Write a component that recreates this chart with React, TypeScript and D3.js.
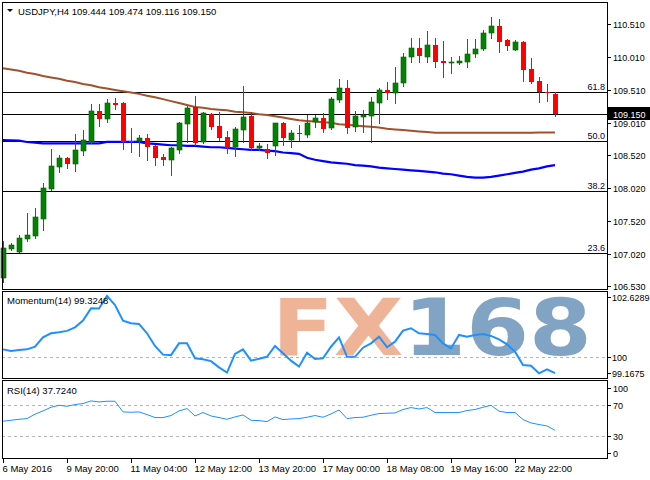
import React from "react";
import * as d3 from "d3";

const symbolTitle = "USDJPY,H4";
const titleOHLC = ["109.444", "109.474", "109.116", "109.150"];

const opens = [106.656, 107.096, 107.05, 107.248, 107.293, 107.551, 108.006, 108.34, 108.477, 108.386, 108.583, 108.719, 109.19, 109.069, 109.311, 109.311, 108.735, 108.735, 108.78, 108.659, 108.492, 108.446, 108.598, 108.993, 109.251, 108.719, 109.144, 108.962, 108.795, 108.644, 108.902, 109.114, 108.628, 108.613, 108.659, 109.008, 108.75, 108.856, 108.826, 109.023, 109.084, 108.932, 109.357, 109.539, 108.947, 109.099, 109.114, 109.311, 109.509, 109.463, 109.615, 110.009, 110.146, 110.009, 110.191, 109.949, 109.918, 109.918, 109.934, 110.055, 110.131, 110.374, 110.48, 110.267, 110.116, 110.237, 109.827, 109.645, 109.478, 109.444];
const highs = [107.217, 107.187, 107.308, 107.642, 107.718, 108.097, 108.613, 108.522, 108.492, 108.841, 108.902, 109.296, 109.296, 109.372, 109.387, 109.32, 108.932, 108.826, 108.841, 108.67, 108.537, 108.644, 109.023, 109.266, 109.418, 109.175, 109.16, 109.175, 108.886, 108.947, 109.569, 109.175, 108.704, 108.69, 109.015, 109.023, 108.902, 108.977, 109.129, 109.129, 109.16, 109.402, 109.676, 109.66, 109.19, 109.205, 109.402, 109.539, 109.63, 109.858, 110.07, 110.298, 110.298, 110.404, 110.298, 110.252, 110.009, 110.025, 110.283, 110.283, 110.419, 110.616, 110.586, 110.275, 110.267, 110.245, 109.994, 109.706, 109.6, 109.474];
const lows = [106.595, 107.081, 107.045, 107.217, 107.263, 107.384, 107.99, 108.264, 108.325, 108.279, 108.522, 108.704, 108.962, 109.023, 109.22, 108.613, 108.568, 108.507, 108.446, 108.37, 108.37, 108.219, 108.553, 108.719, 108.68, 108.704, 108.917, 108.75, 108.553, 108.507, 108.719, 108.598, 108.598, 108.477, 108.522, 108.674, 108.644, 108.75, 108.795, 108.947, 108.871, 108.917, 109.327, 108.856, 108.886, 108.871, 108.719, 109.008, 109.372, 109.311, 109.569, 109.934, 109.934, 109.934, 109.858, 109.706, 109.767, 109.905, 109.858, 110.009, 110.116, 110.298, 110.085, 110.116, 110.11, 109.645, 109.615, 109.327, 109.342, 109.116];
const closes = [107.111, 107.157, 107.263, 107.308, 107.581, 108.021, 108.355, 108.477, 108.386, 108.598, 108.75, 109.19, 109.069, 109.311, 109.281, 108.719, 108.719, 108.78, 108.644, 108.477, 108.446, 108.628, 109.008, 109.235, 108.704, 109.16, 108.947, 108.78, 108.628, 108.917, 109.099, 108.628, 108.659, 108.553, 109.008, 108.78, 108.856, 108.841, 109.008, 109.084, 108.917, 109.372, 109.539, 108.932, 109.114, 109.129, 109.327, 109.509, 109.463, 109.615, 110.009, 110.146, 110.025, 110.191, 109.934, 109.918, 109.934, 109.949, 110.055, 110.131, 110.374, 110.48, 110.237, 110.176, 110.237, 109.812, 109.63, 109.478, 109.463, 109.15];

const maSlow = [109.84, 109.82, 109.8, 109.77, 109.75, 109.72, 109.7, 109.68, 109.65, 109.63, 109.6, 109.58, 109.55, 109.53, 109.51, 109.49, 109.47, 109.45, 109.42, 109.4, 109.37, 109.34, 109.31, 109.28, 109.25, 109.24, 109.22, 109.21, 109.2, 109.18, 109.17, 109.16, 109.14, 109.13, 109.11, 109.09, 109.07, 109.05, 109.04, 109.03, 109.02, 109.01, 108.99, 108.98, 108.97, 108.96, 108.95, 108.94, 108.92, 108.91, 108.9, 108.89, 108.88, 108.87, 108.86, 108.86, 108.86, 108.86, 108.86, 108.86, 108.86, 108.86, 108.86, 108.86, 108.86, 108.86, 108.86, 108.865, 108.865, 108.865];
const maFast = [108.75, 108.745, 108.74, 108.72, 108.71, 108.7, 108.7, 108.7, 108.7, 108.7, 108.7, 108.7, 108.7, 108.72, 108.72, 108.72, 108.72, 108.72, 108.7, 108.69, 108.68, 108.67, 108.67, 108.66, 108.66, 108.65, 108.64, 108.64, 108.63, 108.62, 108.61, 108.6, 108.6, 108.59, 108.58, 108.56, 108.55, 108.54, 108.48, 108.45, 108.43, 108.41, 108.4, 108.39, 108.37, 108.36, 108.35, 108.33, 108.32, 108.31, 108.3, 108.29, 108.28, 108.27, 108.26, 108.24, 108.23, 108.21, 108.19, 108.18, 108.18, 108.19, 108.21, 108.23, 108.25, 108.27, 108.3, 108.32, 108.35, 108.37];

const momentum = [100.32, 100.25, 100.29, 100.32, 100.43, 100.82, 100.99, 101.03, 101.09, 101.24, 101.52, 102.03, 102.02, 102.55, 102.17, 101.52, 101.41, 101.38, 100.99, 100.46, 100.1, 100.08, 100.57, 100.57, 99.95, 99.91, 99.83, 99.57, 99.35, 100.13, 100.32, 99.85, 99.93, 100.01, 100.46, 100.16, 99.85, 99.6, 100.18, 99.92, 99.95, 100.43, 100.82, 100.01, 100.01, 100.39, 100.57, 100.85, 100.41, 100.64, 101.1, 101.2, 100.99, 100.96, 100.92, 100.57, 100.36, 100.92, 100.85, 100.92, 100.96, 100.88, 100.74, 100.53, 100.22, 99.67, 99.64, 99.32, 99.49, 99.3248];
const rsi = [49.4, 50.6, 51.9, 52.8, 58.4, 62.7, 67.4, 70, 68.7, 70.9, 72.2, 75.6, 74.3, 75.2, 75.2, 61.4, 61, 61.4, 58, 54.1, 54.1, 56.7, 62.7, 65.7, 56.2, 60.6, 56.2, 54.1, 51.9, 54.9, 57.5, 50.6, 50.2, 48.9, 54.9, 51.5, 52.3, 52.8, 54.5, 56.7, 54.5, 58.8, 63.9, 52.8, 54.1, 54.5, 57.1, 59.3, 59.7, 60.1, 64.5, 67, 65.2, 67, 60.6, 60.6, 60.6, 60.6, 63.2, 64.5, 67.4, 70, 62.3, 60.6, 60.6, 51.5, 47.2, 45.1, 43.3, 37.724];

const xTickBars = [0, 8, 16, 24, 32, 40, 48, 56, 64];
const xTickLabels = ["6 May 2016", "9 May 20:00", "11 May 04:00", "12 May 12:00", "13 May 20:00", "17 May 00:00", "18 May 08:00", "19 May 16:00", "22 May 22:00"];
const priceTicks = [110.51, 110.01, 109.51, 109.01, 108.52, 108.02, 107.52, 107.02, 106.53];
const priceTickLabels = ["110.510", "110.010", "109.510", "109.010", "108.520", "108.020", "107.520", "107.020", "106.530"];
const fibLevels = [109.478, 108.735, 107.976, 107.035];
const fibLabels = ["61.8", "50.0", "38.2", "23.6"];
const lastPrice = 109.15;
const lastPriceLabel = "109.150";
const momTicks = [102.6289, 100, 99.1675];
const momTickLabels = ["102.6289", "100", "99.1675"];
const momLevel = 100;
const rsiTicks = [100, 70, 30, 0];
const rsiTickLabels = ["100", "70", "30", "0"];
const rsiLevels = [70, 30];
const momTitle = "Momentum(14) 99.3248";
const rsiTitle = "RSI(14) 37.7240";

const W = 650;
const H = 480;
const L = 2;
const R = 607;
const FONT = "'Liberation Sans', Arial, sans-serif";
const FS = 9;

export default function App() {
  const n = closes.length;
  const x = d3.scaleLinear().domain([0, n - 1]).range([3, 555]);
  const y = d3.scaleLinear().domain([106.489, 110.844]).range([289, 2]);
  const ym = d3.scaleLinear().domain([99.1675, 102.6289]).range([377, 294]);
  const yr = d3.scaleLinear().domain([0, 100]).range([459.5, 382]);

  const lineSlow = d3.line<number>().x((_, i) => x(i)).y((d) => y(d));
  const lineMom = d3.line<number>().x((_, i) => x(i)).y((d) => ym(d));
  const lineRsi = d3.line<number>().x((_, i) => x(i)).y((d) => yr(d));

  const crisp = (v: number) => Math.round(v) + 0.5;

  const text = (props: any, s: string, key?: any) => (
    <text key={key} fontFamily={FONT} fontSize={FS} fill="#000" {...props}>
      {s}
    </text>
  );

  const clampLbl = (v: number, lo: number, hi: number) => Math.max(lo, Math.min(hi, v));

  return (
    <svg
      width={W}
      height={H}
      style={{ position: "absolute", left: 0, top: 0, background: "#fff" }}
    >
      <rect x={0} y={0} width={W} height={H} fill="#fff" />

      {/* Watermark */}
      <text
        x={272}
        y={355}
        fontFamily="'DejaVu Sans', sans-serif"
        fontWeight="bold"
        fontSize={79}
        textLength={320}
        lengthAdjust="spacingAndGlyphs"
      >
        <tspan fill="#efb398">FX</tspan>
        <tspan fill="#82a4c4">168</tspan>
      </text>

      {/* Fibonacci levels */}
      {fibLevels.map((v, i) => (
        <g key={"fib" + i}>
          <line x1={L} x2={R} y1={crisp(y(v))} y2={crisp(y(v))} stroke="#000" strokeWidth={1} />
          {text({ x: R - 2, y: crisp(y(v)) - 2.5, textAnchor: "end", fill: "#000033" }, fibLabels[i])}
        </g>
      ))}
      {/* last price line */}
      <line x1={L} x2={R} y1={crisp(y(lastPrice))} y2={crisp(y(lastPrice))} stroke="#000" strokeWidth={1} />

      {/* Moving averages */}
      <path d={lineSlow(maSlow) || ""} fill="none" stroke="#a0522d" strokeWidth={2} />
      <path d={lineSlow(maFast) || ""} fill="none" stroke="#0000ff" strokeWidth={2.2} />

      {/* Candles */}
      {closes.map((c, i) => {
        const o = opens[i];
        const up = c >= o;
        const col = up ? "#008400" : "#ff0000";
        const cx = Math.round(x(i));
        const top = Math.round(y(Math.max(o, c)));
        const bot = Math.round(y(Math.min(o, c)));
        const hgt = Math.max(1, bot - top);
        return (
          <g key={"c" + i}>
            <line
              x1={cx + 0.5}
              x2={cx + 0.5}
              y1={Math.round(y(highs[i]))}
              y2={Math.round(y(lows[i])) + 1}
              stroke={col}
              strokeWidth={1}
            />
            <rect
              x={cx - 2}
              y={top}
              width={5}
              height={hgt}
              fill={col}
              stroke={up ? "#006000" : "#ff0000"}
              strokeWidth={up ? 0.6 : 0}
            />
          </g>
        );
      })}

      {/* Momentum */}
      <line
        x1={L}
        x2={R}
        y1={crisp(ym(momLevel))}
        y2={crisp(ym(momLevel))}
        stroke="#b4b4b4"
        strokeDasharray="3,3"
      />
      <path d={lineMom(momentum) || ""} fill="none" stroke="#1e90ff" strokeWidth={2} />

      {/* RSI */}
      {rsiLevels.map((v, i) => (
        <line
          key={"rl" + i}
          x1={L}
          x2={R}
          y1={crisp(yr(v))}
          y2={crisp(yr(v))}
          stroke="#b4b4b4"
          strokeDasharray="3,3"
        />
      ))}
      <path d={lineRsi(rsi) || ""} fill="none" stroke="#1e90ff" strokeWidth={1} />

      {/* Frames */}
      <rect x={L + 0.5} y={2.5} width={R - L} height={287} fill="none" stroke="#000" />
      <rect x={L + 0.5} y={291.5} width={R - L} height={87} fill="none" stroke="#000" />
      <rect x={L + 0.5} y={380.5} width={R - L} height={78} fill="none" stroke="#000" />

      {/* Title */}
      <path d="M7,9 L13,9 L10,12 Z" fill="#000" />
      {text({ x: 18, y: 14.5, fontSize: 9.5 }, symbolTitle + "  " + titleOHLC.join(" "))}
      {text({ x: 7, y: 304, fontSize: 9.5 }, momTitle)}
      {text({ x: 7, y: 393.5, fontSize: 9.5 }, rsiTitle)}

      {/* Right price axis */}
      {priceTicks.map((v, i) => {
        const yy = crisp(y(v));
        return (
          <g key={"pt" + i}>
            <line x1={R} x2={R + 4} y1={yy} y2={yy} stroke="#000" />
            {text({ x: 613, y: yy + 3.5 }, priceTickLabels[i])}
          </g>
        );
      })}
      {/* last price label */}
      <rect x={R + 1} y={Math.round(y(lastPrice)) - 7} width={W - R - 1} height={13} fill="#000" />
      {text({ x: 613, y: Math.round(y(lastPrice)) + 3.5, fill: "#fff" }, lastPriceLabel)}

      {/* Momentum axis */}
      {momTicks.map((v, i) => {
        const yy = clampLbl(crisp(ym(v)), 297.5, 373.5);
        return (
          <g key={"mt" + i}>
            <line x1={R} x2={R + 4} y1={yy} y2={yy} stroke="#000" />
            {text({ x: 612, y: yy + 3.5 }, momTickLabels[i])}
          </g>
        );
      })}

      {/* RSI axis */}
      {rsiTicks.map((v, i) => {
        const yy = clampLbl(crisp(yr(v)), 388.5, 453.5);
        return (
          <g key={"rt" + i}>
            <line x1={R} x2={R + 4} y1={yy} y2={yy} stroke="#000" />
            {text({ x: 613, y: yy + 3.5 }, rsiTickLabels[i])}
          </g>
        );
      })}

      {/* X axis */}
      {xTickBars.map((b, i) => {
        const xx = crisp(x(b));
        return (
          <g key={"xt" + i}>
            <line x1={xx} x2={xx} y1={459} y2={463} stroke="#000" />
            {text({ x: xx - 1, y: 472, fontSize: 9.5 }, xTickLabels[i])}
          </g>
        );
      })}
    </svg>
  );
}
